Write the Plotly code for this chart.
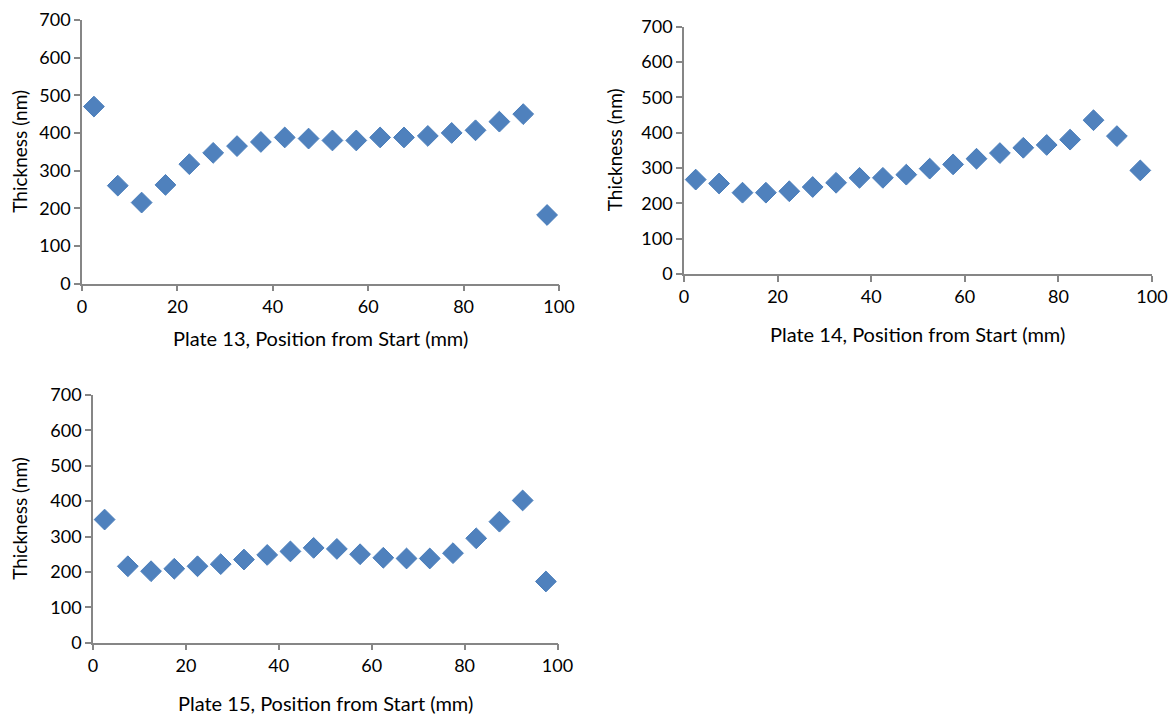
import plotly.graph_objects as go

# The page body adds an 8px margin, so the figure is placed at (8, 8)
OFF = 8
W, H = 1176 - OFF, 717 - OFF

positions = [2.5, 7.5, 12.5, 17.5, 22.5, 27.5, 32.5, 37.5, 42.5, 47.5,
             52.5, 57.5, 62.5, 67.5, 72.5, 77.5, 82.5, 87.5, 92.5, 97.5]
plate13 = [470, 260, 215, 262, 317, 347, 365, 376, 388, 385,
           380, 380, 388, 388, 392, 400, 407, 430, 450, 182]
plate14 = [267, 256, 230, 230, 234, 246, 258, 272, 272, 281,
           298, 310, 326, 342, 357, 365, 380, 435, 390, 293]
plate15 = [348, 216, 202, 209, 216, 222, 235, 248, 258, 268,
           265, 250, 240, 238, 238, 253, 295, 342, 402, 173]
x_titles = ["Plate 13, Position from Start (mm)",
            "Plate 14, Position from Start (mm)",
            "Plate 15, Position from Start (mm)"]
y_title = "Thickness (nm)"
x_ticks = [0, 20, 40, 60, 80, 100]
y_ticks = [0, 100, 200, 300, 400, 500, 600, 700]

# plot boxes in window pixels: (left, right, top, bottom)
boxes = [(82, 559, 20, 283.5), (684, 1152, 26.5, 274), (93, 557.5, 395, 642.7)]
# title positions in window pixels: (x-title center y, y-title center x)
title_pos = [(338, 20), (334, 614), (703, 20)]
series = [plate13, plate14, plate15]

FONT = "Lato"
AX = "#868686"
MARK = "#4F81BD"


def px(x):
    return (x - OFF) / W


def py(y):
    return 1 - (y - OFF) / H


fig = go.Figure()
layout = dict(width=W, height=H, margin=dict(l=0, r=0, t=0, b=0, autoexpand=False),
              template="none",
              paper_bgcolor="white", plot_bgcolor="white", showlegend=False,
              font=dict(family=FONT, size=18, color="#000000"))
annotations = []
for i, (box, vals) in enumerate(zip(boxes, series)):
    l, r, t, b = box
    xa = "xaxis" if i == 0 else f"xaxis{i+1}"
    ya = "yaxis" if i == 0 else f"yaxis{i+1}"
    xref = "x" if i == 0 else f"x{i+1}"
    yref = "y" if i == 0 else f"y{i+1}"
    fig.add_trace(go.Scatter(x=positions, y=vals, mode="markers", xaxis=xref, yaxis=yref,
                             cliponaxis=False,
                             marker=dict(symbol="diamond", size=16, color=MARK,
                                         line=dict(color="#4A7EBB", width=1))))
    layout[xa] = dict(domain=[px(l), px(r)], range=[0, 100], anchor=yref,
                      tickvals=x_ticks, ticks="outside", ticklen=6, tickcolor=AX,
                      tickwidth=1.5, automargin=False,
                      showline=True, linecolor=AX, linewidth=1.5, showgrid=False,
                      zeroline=False, tickfont=dict(family=FONT, size=18))
    layout[ya] = dict(domain=[py(b), py(t)], range=[0, 700], anchor=xref,
                      tickvals=y_ticks, ticks="outside", ticklen=6, tickcolor=AX,
                      tickwidth=1.5, automargin=False,
                      showline=True, linecolor=AX, linewidth=1.5, showgrid=False,
                      zeroline=False, tickfont=dict(family=FONT, size=18))
    xt_y, yt_x = title_pos[i]
    annotations.append(dict(text=x_titles[i], xref="paper", yref="paper",
                            x=px((l + r) / 2), y=py(xt_y),
                            showarrow=False, xanchor="center", yanchor="middle",
                            font=dict(family=FONT, size=20)))
    annotations.append(dict(text=y_title, xref="paper", yref="paper",
                            x=px(yt_x), y=py((t + b) / 2), textangle=-90,
                            showarrow=False, xanchor="center", yanchor="middle",
                            font=dict(family=FONT, size=19)))
layout["annotations"] = annotations
fig.update_layout(**layout)
fig.write_html("out.html")
